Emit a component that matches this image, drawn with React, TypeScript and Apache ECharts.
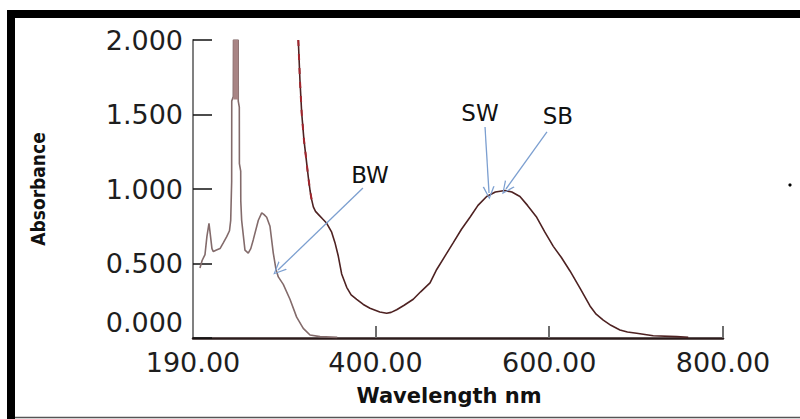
import React, { useEffect, useRef } from "react";
import * as echarts from "echarts";

// Wavelength (nm) / absorbance pairs
const bwSpectrum: [number, number][] = [
  [198, 0.47], [200.5, 0.52], [203.8, 0.56], [206, 0.68], [208.4, 0.77], [210.2, 0.68],
  [211.8, 0.6], [213.4, 0.58], [217, 0.59], [221.1, 0.6], [225, 0.64], [228.8, 0.68],
  [232, 0.72], [233.4, 0.79], [234.5, 1.05], [234.6, 1.59], [236.4, 1.62], [236.6, 2.0],
  [242, 2.0], [242.1, 1.59], [243.3, 1.55], [243.4, 1.17], [244.9, 1.12], [245, 0.92],
  [246, 0.79], [249.8, 0.59], [253.6, 0.57], [256.5, 0.6], [259.4, 0.66], [265.2, 0.79],
  [269.1, 0.84], [271.5, 0.83], [274.8, 0.81], [278.6, 0.75], [282.4, 0.57], [285.5, 0.46],
  [288.2, 0.41], [293.9, 0.36], [301.6, 0.26], [309.3, 0.14], [316.9, 0.065], [324.7, 0.02],
  [336.2, 0.009], [356, 0.004],
];

// Saturated (off-scale) band at the top of the BW peak
const bwSaturatedBand: [number, number][] = [
  [239.3, 1.6], [239.3, 2.0],
];

const sampleSpectrum: [number, number][] = [
  [311.2, 2.0], [313.1, 1.73], [315.1, 1.51], [317.7, 1.33], [320.9, 1.17], [322.7, 1.08],
  [324.7, 0.99], [326.5, 0.93], [328.5, 0.88], [331, 0.85], [334.2, 0.83], [339, 0.8],
  [343.9, 0.77], [349.6, 0.71], [353.4, 0.64], [357.2, 0.55], [361.1, 0.43], [366.9, 0.34],
  [372, 0.29], [378.4, 0.26], [386, 0.225], [393.7, 0.2], [405, 0.175], [412.9, 0.166],
  [418, 0.172], [424.4, 0.19], [433, 0.22], [443.5, 0.26], [452, 0.31], [462.8, 0.37],
  [470.5, 0.46], [480, 0.55], [489.6, 0.64], [499, 0.73], [508.8, 0.81], [518, 0.89],
  [528, 0.95], [538, 0.98], [549.1, 0.99], [557, 0.98], [566.3, 0.95], [575, 0.89],
  [585.6, 0.81], [595, 0.71], [604.7, 0.615], [614, 0.54], [623.9, 0.45], [635.4, 0.335],
  [646.9, 0.215], [654, 0.16], [662.2, 0.12], [671, 0.085], [681.4, 0.054], [690, 0.04],
  [700.6, 0.032], [719.7, 0.015], [746.7, 0.009], [760, 0.005],
];

// The steep off-scale descent of the sample trace, drawn dashed red in the original
const sampleSteepPart = sampleSpectrum.slice(0, 9);

const xTickLabels = [190, 400, 600, 800];
const xTickMarks = [400, 600, 800];

// Annotation labels and arrows (data coordinates)
const bwLabel: [number, number] = [393.7, 1.094];
const bwArrow: [number, number][] = [[385.6, 1.007], [287.8, 0.456]];
const swLabel: [number, number] = [520.3, 1.513];
const swArrow: [number, number][] = [[526.1, 1.416], [530.7, 0.973]];
const sbLabel: [number, number] = [610, 1.487];
const sbArrow: [number, number][] = [[597.4, 1.383], [550.2, 1.0]];

const FONT = "DejaVu Sans";
const NARROW = "'DejaVu Sans Condensed', 'Liberation Sans Narrow', Roboto, 'DejaVu Sans', sans-serif";
const ARROW = "path://M5,0 L10,12 L8.8,12 L5,2.4 L1.2,12 L0,12 Z";

export default function App() {
  const ref = useRef<HTMLDivElement>(null);

  useEffect(() => {
    if (!ref.current) return;
    const chart = echarts.init(ref.current, undefined, { renderer: "svg" });

    const labelPoint = (coord: [number, number], name: string) => ({ name, coord });
    const arrow = (pts: [number, number][]) => [{ coord: pts[0] }, { coord: pts[1] }];

    const markPointCommon = {
      symbol: "circle",
      symbolSize: 1,
      silent: true,
      itemStyle: { color: "rgba(0,0,0,0)" },
      label: {
        show: true,
        position: "inside",
        formatter: "{b}",
        color: "#111",
        fontSize: 23,
        fontFamily: FONT,
      },
    };
    const markLineCommon = {
      silent: true,
      symbol: ["none", ARROW],
      symbolSize: [12, 13],
      lineStyle: { color: "#7c9fd0", width: 1.3, type: "solid" },
      label: { show: false },
    };

    chart.setOption({
      animation: false,
      backgroundColor: "#fff",
      grid: { left: 193, right: 77, top: 40, bottom: 81, containLabel: false },
      xAxis: {
        type: "value",
        min: 190,
        max: 800,
        name: "Wavelength nm",
        nameLocation: "middle",
        nameGap: 47,
        nameTextStyle: {
          fontFamily: FONT,
          fontWeight: "bold",
          fontSize: 21,
          color: "#111",
          padding: [0, 18, 0, 0],
        },
        axisLine: { show: true, lineStyle: { color: "#2b1b1b", width: 2.5 } },
        axisTick: {
          show: true,
          inside: true,
          length: 12,
          customValues: xTickMarks,
          lineStyle: { color: "#6e6e6e", width: 2 },
        },
        axisLabel: {
          customValues: xTickLabels,
          formatter: (v: number) => v.toFixed(2),
          margin: 11,
          fontSize: 27,
          fontFamily: FONT,
          color: "#1e1e1e",
        },
        splitLine: { show: false },
      },
      yAxis: {
        type: "value",
        min: 0,
        max: 2,
        interval: 0.5,
        name: "Absorbance",
        nameLocation: "middle",
        nameGap: 146,
        nameTextStyle: {
          fontFamily: NARROW,
          fontWeight: "bold",
          fontSize: 19,
          color: "#111",
        },
        axisLine: { show: true, lineStyle: { color: "#808080", width: 2 } },
        axisTick: { show: true, inside: true, length: 19, lineStyle: { color: "#111", width: 1.5 } },
        axisLabel: {
          margin: 10,
          fontSize: 27,
          fontFamily: FONT,
          color: "#1e1e1e",
          formatter: (v: number) => (v === 0 ? "{z|0.000}" : v.toFixed(3)),
          rich: {
            z: { fontSize: 27, fontFamily: FONT, color: "#1e1e1e", padding: [0, 0, 32, 0] },
          },
        },
        splitLine: { show: false },
      },
      series: [
        {
          name: "BW",
          type: "line",
          data: bwSpectrum,
          showSymbol: false,
          clip: true,
          lineStyle: { color: "#836b6b", width: 1.6 },
          markLine: { ...markLineCommon, data: [arrow(bwArrow)] },
          markPoint: { ...markPointCommon, data: [labelPoint(bwLabel, "BW")] },
        },
        {
          name: "BW saturated",
          type: "line",
          data: bwSaturatedBand,
          showSymbol: false,
          clip: true,
          lineStyle: { color: "#a88484", width: 5, cap: "butt" },
        },
        {
          name: "SW/SB",
          type: "line",
          data: sampleSpectrum,
          showSymbol: false,
          clip: true,
          lineStyle: { color: "#4e2222", width: 1.6 },
          markLine: { ...markLineCommon, data: [arrow(swArrow), arrow(sbArrow)] },
          markPoint: {
            ...markPointCommon,
            data: [labelPoint(swLabel, "SW"), labelPoint(sbLabel, "SB")],
          },
        },
        {
          name: "SW/SB steep",
          type: "line",
          data: sampleSteepPart,
          showSymbol: false,
          clip: true,
          lineStyle: { color: "#a3262e", width: 2, type: [6, 8] },
        },
      ],
      graphic: [
        { type: "rect", shape: { x: 7, y: 10, width: 793, height: 8 }, style: { fill: "#000" }, silent: true },
        { type: "rect", shape: { x: 7, y: 10, width: 8, height: 409 }, style: { fill: "#000" }, silent: true },
        {
          type: "line",
          shape: { x1: 15, y1: 417.5, x2: 800, y2: 417.5 },
          style: { stroke: "#555", lineWidth: 1.5 },
          silent: true,
        },
        { type: "circle", shape: { cx: 790, cy: 185, r: 1.6 }, style: { fill: "#000" }, silent: true },
      ],
    });

    return () => chart.dispose();
  }, []);

  return (
    <div
      ref={ref}
      style={{ position: "fixed", left: 0, top: 0, width: 800, height: 419, background: "#fff" }}
    />
  );
}
